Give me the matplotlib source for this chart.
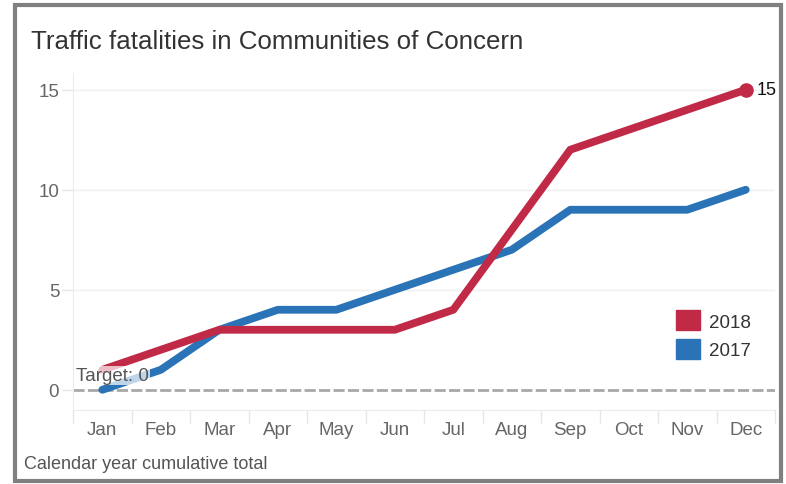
import matplotlib.pyplot as plt
from matplotlib.patches import Rectangle, Patch

plt.rcParams['font.family'] = ['Liberation Sans', 'DejaVu Sans']

months = ["Jan", "Feb", "Mar", "Apr", "May", "Jun",
          "Jul", "Aug", "Sep", "Oct", "Nov", "Dec"]
fatal_2018 = [1, 2, 3, 3, 3, 3, 4, 8, 12, 13, 14, 15]
fatal_2017 = [0, 1, 3, 4, 4, 5, 6, 7, 9, 9, 9, 10]
target = 0
y_ticks = [0, 5, 10, 15]

red = "#C12A47"
blue = "#2B73B7"

fig = plt.figure(figsize=(7.86, 4.85), dpi=100)
ax = fig.add_axes([0.093, 0.153, 0.893, 0.695])

x = list(range(len(months)))
ax.axhline(target, color="#a8a8a8", lw=2, ls=(0, (4, 1.2)), zorder=1)
ax.plot(x, fatal_2017, color=blue, lw=5.6, solid_capstyle="round",
        solid_joinstyle="round", zorder=3)
ax.plot(x, fatal_2018, color=red, lw=5.6, solid_capstyle="round",
        solid_joinstyle="round", zorder=4)
ax.plot(x[-1], fatal_2018[-1], "o", color=red, ms=9.5, zorder=5)
ax.annotate(str(fatal_2018[-1]), (x[-1], fatal_2018[-1]), xytext=(7.5, 0),
            textcoords="offset points", va="center", ha="left",
            fontsize=13, color="#111111")

ax.text(-0.45, target + 0.3, "Target: 0", fontsize=13.5, color="#555555",
        va="bottom", ha="left", zorder=6,
        bbox=dict(facecolor="white", edgecolor="none", alpha=0.7, pad=0.5))

ax.set_xlim(-0.5, len(months) - 0.5)
ax.set_ylim(-1, 15.85)
ax.set_yticks(y_ticks)
ax.set_xticks(x)
ax.set_xticklabels(months)
ax.set_xticks([i - 0.5 for i in range(len(months) + 1)], minor=True)
ax.tick_params(axis="x", which="major", length=0, pad=8,
               labelsize=13.5, labelcolor="#666666")
ax.tick_params(axis="x", which="minor", length=9, color="#e6e6e6", width=1)
ax.tick_params(axis="y", length=8, color="#e6e6e6", width=1, pad=2,
               labelsize=13.5, labelcolor="#666666")
ax.grid(axis="y", color="#efefef", lw=1)
for g, t in zip(ax.get_ygridlines(), y_ticks):
    if t == target:
        g.set_visible(False)
for s in ["top", "right"]:
    ax.spines[s].set_visible(False)
for s in ["left", "bottom"]:
    ax.spines[s].set_color("#ececec")
ax.set_axisbelow(True)

handles = [Patch(color=red, label="2018"), Patch(color=blue, label="2017")]
ax.legend(handles=handles, loc="lower right", bbox_to_anchor=(0.99, 0.1),
          frameon=False, fontsize=13.5, handlelength=1.25, handleheight=1.25,
          labelspacing=0.45, handletextpad=0.5, labelcolor="#333333")

fig.text(0.039, 0.913, "Traffic fatalities in Communities of Concern",
         fontsize=18.6, color="#333333", va="center")
fig.text(0.031, 0.042, "Calendar year cumulative total",
         fontsize=13, color="#555555", va="center")

fig.patches.append(Rectangle((0.0185, 0.006), 0.975, 0.981,
                             transform=fig.transFigure, fill=False,
                             edgecolor="#808080", lw=3))

fig.savefig("out.png", dpi=100)
